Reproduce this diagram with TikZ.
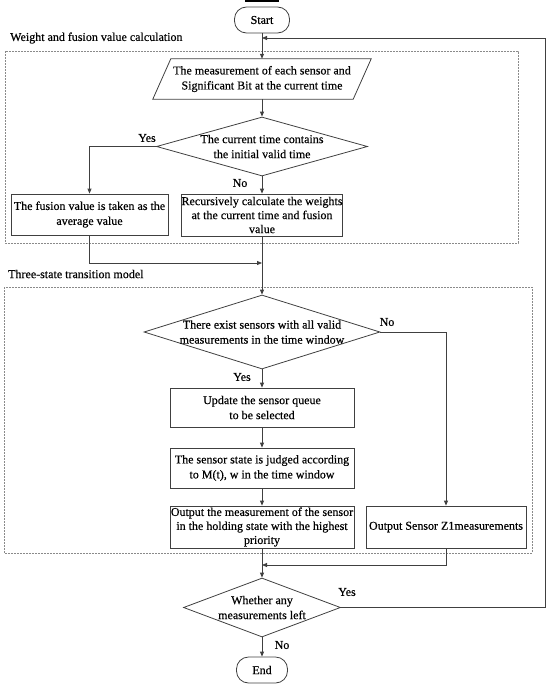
\documentclass[tikz,border=0pt]{standalone}
\usepackage{fontspec}
\setmainfont{Liberation Serif}[FakeBold=0.4]
\usetikzlibrary{shapes.geometric,arrows.meta,calc}
\definecolor{lc}{HTML}{404040}
\definecolor{gc}{HTML}{8A8A8A}
\begin{document}
\begin{tikzpicture}[x=1pt,y=-1pt,
  font=\fontsize{12}{15}\selectfont,
  ln/.style={draw=lc, line width=0.8pt},
  arr/.style={ln, -{Triangle[length=5pt,width=4pt]}},
  pbox/.style={draw=lc, line width=0.8pt, rectangle, align=center, inner sep=0pt},
  term/.style={draw=lc, line width=0.8pt, rectangle, rounded corners=12pt, inner sep=0pt},
  dec/.style={draw=lc, line width=0.8pt, diamond, inner sep=0pt},
  dtext/.style={align=center, inner sep=0pt},
  grp/.style={draw=gc, line width=0.7pt, dash pattern=on 1.6pt off 1.4pt},
  lab/.style={inner sep=0pt}
]
\useasboundingbox (0,0) rectangle (550,688);
\fill[black] (245,0) rectangle (279,1.8);

\node[term, minimum width=55pt, minimum height=26pt] (start) at (262,20) {Start};
\node[lab, anchor=west] (l1) at (10,38) {Weight and fusion value calculation};
\draw[grp] (5,51) rectangle (518,243);

\node[minimum width=200pt, minimum height=40pt, inner sep=0pt, align=center] (inp) at (262,79) {The measurement of each sensor and\\Significant Bit at the current time};
\draw[ln] ($(inp.north west)+(9,0)$) -- ($(inp.north east)+(9,0)$) -- ($(inp.south east)+(-9,0)$) -- ($(inp.south west)+(-9,0)$) -- cycle;

\node[dec, minimum width=211pt, minimum height=59pt] (d1) at (262,146.5) {};
\node[dtext] (d1t) at (d1.center) {The current time contains\\the initial valid time};

\node[pbox, minimum width=157pt, minimum height=41pt] (fuse) at (89.5,214.5) {The fusion value is taken as the\\average value};
\node[pbox, minimum width=157pt, minimum height=42pt, font=\fontsize{12}{14}\selectfont] (rec) at (262,215) {Recursively calculate the weights\\at the current time and fusion\\value};

\node[lab] (y1) at (147,138) {Yes};
\node[lab] (n1) at (240,183) {No};

\draw[arr] (start) -- (inp);
\draw[arr] (inp.south) -- (d1.north);
\draw[arr] (d1.south) -- (rec.north);
\draw[arr] (d1.west) -| (fuse.north);
\coordinate (m1) at (262,263);
\draw[arr] (fuse.south) |- (m1);

\node[lab, anchor=west] (l2) at (8,274) {Three-state transition model};
\draw[grp] (4,287) rectangle (532,553);

\node[dec, minimum width=236pt, minimum height=74pt] (d2) at (262,332) {};
\node[dtext] (d2t) at (d2.center) {There exist sensors with all valid\\measurements in the time window};
\draw[arr] (rec.south) -- (d2.north);

\node[pbox, minimum width=184pt, minimum height=39pt] (upd) at (262,407.5) {Update the sensor queue\\to be selected};
\node[pbox, minimum width=184pt, minimum height=40pt] (judge) at (262,468) {The sensor state is judged according\\to M(t), w in the time window};
\node[pbox, minimum width=184pt, minimum height=42pt, font=\fontsize{12}{14}\selectfont] (outm) at (262,527) {Output the measurement of the sensor\\in the holding state with the highest\\priority};
\node[pbox, minimum width=160pt, minimum height=42pt] (outs) at (446,527) {Output Sensor Z1measurements};

\node[lab] (n2) at (387,322) {No};
\node[lab] (y2) at (242,377) {Yes};

\draw[arr] (d2.south) -- (upd.north);
\draw[arr] (upd.south) -- (judge.north);
\draw[arr] (judge.south) -- (outm.north);
\draw[arr] (d2.east) -| (outs.north);
\coordinate (m2) at (262,565);
\draw[arr] (outs.south) |- (m2);

\node[dec, minimum width=157pt, minimum height=59pt] (d3) at (262,607.5) {};
\node[dtext] (d3t) at (d3.center) {Whether any\\measurements left};
\draw[arr] (outm.south) -- (d3.north);

\node[term, minimum width=51pt, minimum height=26pt] (end) at (262,670) {End};
\draw[arr] (d3.south) -- (end.north);

\node[lab] (y3) at (347,592) {Yes};
\node[lab] (n3) at (282,645) {No};

\coordinate (fbc) at (545,38);
\coordinate (m3) at (262,38);
\draw[arr] (d3.east) -| (fbc) -- (m3);
\end{tikzpicture}
\end{document}
